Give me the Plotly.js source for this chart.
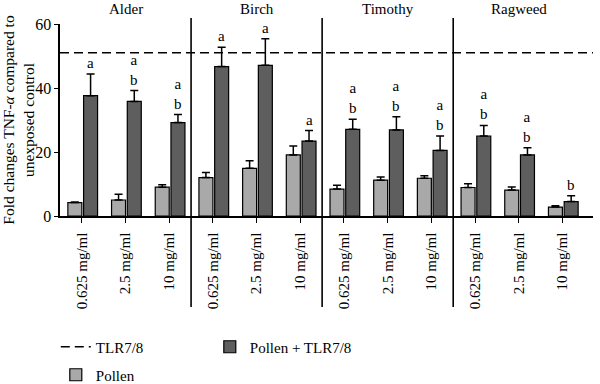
<!DOCTYPE html>
<html>
<head>
<meta charset="utf-8">
<script src="https://cdn.plot.ly/plotly-3.0.1.min.js"></script>
<style>html,body{margin:0;padding:0;background:#fff;}#chart{width:600px;height:384px;}</style>
</head>
<body>
<div id="chart"></div>
<script>
// Data
const pollenTypes = ["Alder", "Birch", "Timothy", "Ragweed"];
const doseLabels = ["0.625 mg/ml", "2.5 mg/ml", "10 mg/ml"];
const pollenVals = [4.2, 5.0, 9.0, 12.0, 14.9, 19.1, 8.4, 11.2, 11.8, 8.9, 8.1, 2.8];
const pollenErr  = [0.2, 1.8, 0.8, 1.6, 2.4, 2.8, 1.2, 1.0, 0.8, 1.2, 1.0, 0.4];
const comboVals  = [37.6, 35.8, 29.2, 46.7, 47.1, 23.4, 27.1, 26.9, 20.5, 25.0, 19.1, 4.5];
const comboErr   = [6.8, 3.4, 2.5, 6.0, 8.3, 3.3, 3.1, 4.1, 4.5, 3.3, 2.2, 1.8];
const sigLetters = ["a", "a<br>b", "a<br>b", "a", "a", "a", "a<br>b", "a<br>b", "a<br>b", "a<br>b", "a<br>b", "b"];
const tlrLevel = 51.0;

const FONT = "Liberation Serif";
const n = pollenTypes.length * doseLabels.length;
const xs = [];
const tickText = [];
for (let g = 0; g < pollenTypes.length; g++) {
  for (let d = 0; d < doseLabels.length; d++) {
    xs.push(g * doseLabels.length + d);
    tickText.push(doseLabels[d]);
  }
}

const traces = [
  {
    type: "scatter", mode: "lines", name: "TLR7/8",
    x: [-0.5, n - 0.3], y: [tlrLevel, tlrLevel],
    line: {color: "#000", width: 1.6, dash: "9px,5px"},
    legend: "legend", hoverinfo: "skip"
  },
  {
    type: "bar", name: "Pollen + TLR7/8",
    x: xs, y: comboVals, width: 0.32, offset: 0.04,
    marker: {color: "#5e5e5e", line: {color: "#000", width: 1.2}},
    error_y: {type: "data", symmetric: false, array: comboErr, arrayminus: comboErr.map(() => 0), color: "#000", thickness: 1.5, width: 4},
    legend: "legend"
  },
  {
    type: "bar", name: "Pollen",
    x: xs, y: pollenVals, width: 0.32, offset: -0.32,
    marker: {color: "#a9a9a9", line: {color: "#000", width: 1.2}},
    error_y: {type: "data", symmetric: false, array: pollenErr, arrayminus: pollenErr.map(() => 0), color: "#000", thickness: 1.5, width: 4},
    legend: "legend2"
  }
];

const annotations = [];
for (let i = 0; i < n; i++) {
  annotations.push({
    x: xs[i] + 0.2, y: comboVals[i] + comboErr[i], xref: "x", yref: "y",
    text: sigLetters[i], showarrow: false, yanchor: "bottom", yshift: 1,
    font: {family: FONT, size: 15, color: "#000"}
  });
}
for (let g = 0; g < pollenTypes.length; g++) {
  annotations.push({
    x: g * 3 + 1, y: 1.08, xref: "x", yref: "paper",
    text: pollenTypes[g], showarrow: false, yanchor: "middle",
    font: {family: FONT, size: 15, color: "#000"}
  });
}

const shapes = [];
for (let g = 1; g < pollenTypes.length; g++) {
  shapes.push({
    type: "line", xref: "x", yref: "paper",
    x0: g * 3 - 0.5, x1: g * 3 - 0.5, y0: -0.474, y1: 1.031,
    line: {color: "#000", width: 1.6}
  });
}

const layout = {
  width: 600, height: 384,
  margin: {l: 60, r: 7, t: 24, b: 168, autoexpand: false},
  paper_bgcolor: "#fff", plot_bgcolor: "#fff",
  font: {family: FONT, size: 15, color: "#000"},
  barmode: "overlay",
  xaxis: {
    range: [-0.5, n - 0.3], tickvals: xs, ticktext: tickText, tickangle: -90,
    showline: true, linecolor: "#000", linewidth: 1.6, ticks: "outside", ticklen: 5, tickcolor: "#000",
    showgrid: false, zeroline: false, tickfont: {family: FONT, size: 15}, automargin: false,
    ticklabelstandoff: 4
  },
  yaxis: {
    range: [0, 60], tickvals: [0, 20, 40, 60], ticks: "outside", ticklen: 4, tickcolor: "#000",
    showline: true, linecolor: "#000", linewidth: 1.6, showgrid: false, zeroline: false,
    tickfont: {family: FONT, size: 16}, automargin: false,
    title: {text: "Fold changes TNF-<i>α</i> compared to<br>unexposed control", font: {family: FONT, size: 15.5}, standoff: 4}
  },
  showlegend: true,
  legend: {orientation: "h", xref: "container", x: 0.093, xanchor: "left", yref: "container", y: 0.0964, yanchor: "middle",
    entrywidth: 109, entrywidthmode: "pixels", font: {family: FONT, size: 15}, bgcolor: "rgba(0,0,0,0)", traceorder: "normal"},
  legend2: {orientation: "h", xref: "container", x: 0.093, xanchor: "left", yref: "container", y: 0.0234, yanchor: "middle",
    font: {family: FONT, size: 15}, bgcolor: "rgba(0,0,0,0)"},
  annotations: annotations,
  shapes: shapes
};

Plotly.newPlot("chart", traces, layout, {displayModeBar: false, staticPlot: true});
</script>
</body>
</html>
